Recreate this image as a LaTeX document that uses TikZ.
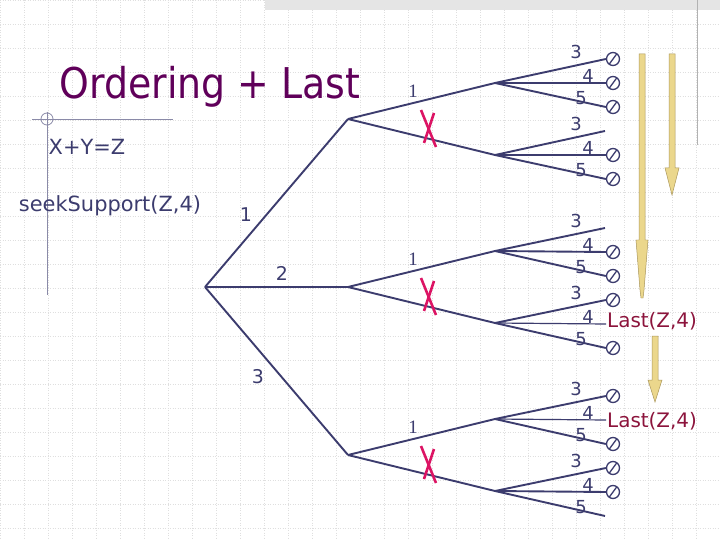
\documentclass[tikz,border=0pt]{standalone}
\usepackage{fontspec}
\setmainfont{DejaVu Sans}
\newfontfamily\serf{Liberation Serif}
\definecolor{ln}{RGB}{60,60,110}
\definecolor{ttl}{RGB}{96,0,90}
\definecolor{xr}{RGB}{220,20,100}
\definecolor{gold}{RGB}{235,215,140}
\definecolor{goldd}{RGB}{170,150,90}
\definecolor{lst}{RGB}{140,20,60}
\newcommand\leafset[5]{% node, y, c3, c4, c5
  \foreach \k/\dy/\c in {3/-24/#3,4/0/#4,5/24/#5}{
    \ifnum\c=1
      \node[endc] (#1e\k) at (613,#2+\dy) {};
      \draw[br] (#1) -- (#1e\k.west);
    \else\ifnum\c=2
      \coordinate (#1e\k) at (606,#2+\dy);
      \draw[lf] (#1) -- (#1e\k);
    \else
      \coordinate (#1e\k) at (605,#2+\dy);
      \draw[br] (#1) -- (#1e\k);
    \fi\fi
  }
  \node[lab] at (576,#2-31) {3};
  \node[lab] at (588,#2-7) {4};
  \node[lab] at (581,#2+15) {5};
}
\begin{document}
\begin{tikzpicture}[x=1bp,y=-1bp,
  br/.style={draw=ln,line width=1.9pt},
  lf/.style={draw=ln,line width=1.2pt},
  lab/.style={font=\fontsize{18}{18}\selectfont,text=ln,inner sep=0},
  slab/.style={font=\serf\fontsize{19}{19}\selectfont,text=ln,inner sep=0},
  endc/.style={circle,draw=ln,line width=1.3pt,minimum size=13bp,inner sep=0,path picture={\draw[ln,line width=1.3pt] ([shift={(-1,-1)}]path picture bounding box.north east) -- ([shift={(1,1)}]path picture bounding box.south west);}},
  xs/.style={draw=xr,line width=2.6pt},
  yarr/.style={draw=goldd,fill=gold,line width=0.5pt}]
\useasboundingbox (0,0) rectangle (720,540);
\fill[white] (0,0) rectangle (720,540);
\foreach \i in {0,24,...,720}{\draw[gray!25,dash pattern=on 1bp off 1.5bp,line width=0.7bp] (\i,0) -- (\i,540);}
\foreach \j in {0,24,...,540}{\draw[gray!25,dash pattern=on 1bp off 1.5bp,line width=0.7bp] (0,\j) -- (720,\j);}
\fill[gray!20] (265,0) rectangle (720,10);
\draw[gray!60,line width=0.8pt] (697,0) -- (697,145);
\draw[ln!60,line width=0.8pt] (32,119) -- (173,119);
\draw[ln!60,line width=0.8pt] (47,112) -- (47,295);
\draw[ln!60,line width=0.8pt] (47,119) circle (6);
\node[text=ttl,font=\fontsize{38}{38}\selectfont,inner sep=0,yscale=1.12] (title) at (210,87) {Ordering + Last};
\node[lab,font=\fontsize{21}{21}\selectfont] (eq) at (87,147) {X+Y=Z};
\node[lab,font=\fontsize{21}{21}\selectfont] (ss) at (110,206) {seekSupport(Z,4)};
\coordinate (R) at (205,287);
\coordinate (A) at (348,119);
\coordinate (B) at (348,287);
\coordinate (C) at (348,455);
\draw[br] (R) -- (A); \draw[br] (R) -- (B); \draw[br] (R) -- (C);
\node[lab,font=\fontsize{19}{19}\selectfont] (l1) at (246,215) {1};
\node[lab,font=\fontsize{19}{19}\selectfont] (l2) at (282,273) {2};
\node[lab,font=\fontsize{19}{19}\selectfont] (l3) at (258,377) {3};
\foreach \P/\y in {A/119,B/287,C/455}{
  \coordinate (\P u) at (495,\y-36);
  \coordinate (\P d) at (495,\y+36);
  \draw[br] (\P) -- (\P u); \draw[br] (\P) -- (\P d);
  \node[slab] at (413,\y-28) {1};
  \draw[xs] (421,\y-9) -- (436,\y+28);
  \draw[xs] (434,\y-6) -- (424,\y+24);
}
\leafset{Au}{83}{1}{1}{1}
\leafset{Ad}{155}{0}{1}{1}
\leafset{Bu}{252}{0}{1}{1}
\leafset{Bd}{324}{1}{2}{1}
\leafset{Cu}{420}{1}{2}{1}
\leafset{Cd}{492}{1}{1}{0}
\node[text=lst,font=\fontsize{20}{20}\selectfont,anchor=west,inner sep=1] (last1) at (606,321) {Last(Z,4)};
\node[text=lst,font=\fontsize{20}{20}\selectfont,anchor=west,inner sep=1] (last2) at (606,421) {Last(Z,4)};
\draw[yarr] (639,54) -- (645,54) -- (645,240) -- (648,240) -- (644,290) -- (643,298) -- (641,298) -- (640,290) -- (636,240) -- (639,240) -- cycle;
\draw[yarr] (669,54) -- (675,54) -- (675,168) -- (679,168) -- (672,195) -- (665,168) -- (669,168) -- cycle;
\draw[yarr] (652,336) -- (658,336) -- (658,380) -- (662,380) -- (655,402) -- (648,380) -- (652,380) -- cycle;
\end{tikzpicture}
\end{document}
